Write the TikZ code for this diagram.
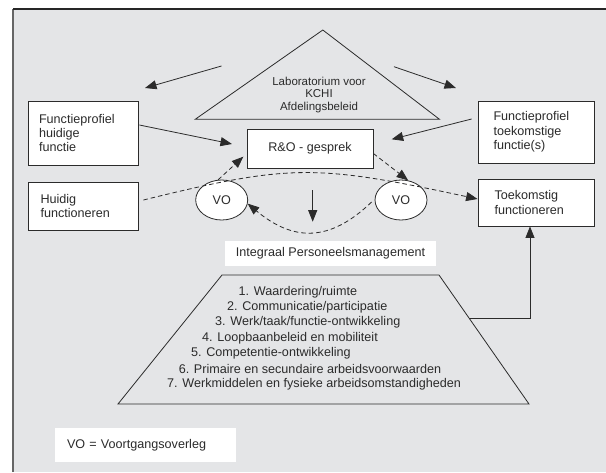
\documentclass[tikz,border=0pt]{standalone}
\usepackage{fontspec}
\setmainfont{Liberation Sans}
\definecolor{panelgray}{HTML}{E4E5E7}
\definecolor{inkgray}{HTML}{2B2B2B}
\usetikzlibrary{arrows.meta, shapes.geometric, calc}
\newcommand{\diafont}{\fontsize{12.6}{14.3}\selectfont}
\newcommand{\labfont}{\fontsize{11.5}{12.6}\selectfont}

\begin{document}
\begin{tikzpicture}[x=1pt, y=-1pt,
    every node/.style={font=\diafont, text=inkgray},
    profbox/.style={draw=inkgray, fill=white, line width=0.8pt, align=left, inner ysep=0pt},
    vo/.style={draw=inkgray, fill=white, ellipse, line width=0.8pt,
               minimum width=52pt, minimum height=40pt, inner sep=0pt},
    whitebox/.style={fill=white, inner sep=0pt},
    listitem/.style={anchor=west, inner sep=0pt},
    arr/.style={-{Triangle[length=11.5pt, width=9pt]}, draw=inkgray, line width=0.8pt},
    darr/.style={arr, dash pattern=on 4.5pt off 3pt}]
        \useasboundingbox (0,0) rectangle (606,472);
        % ---- panel ----
        \fill[panelgray] (13,9) rectangle (606,472);
        \draw[gray!80!black, line width=1.2pt] (13,472) -- (13,9);
        \draw[black!85, line width=1.2pt] (13,9) -- (606,9);

        % ---- laboratorium (triangle) ----
        \draw[inkgray, line width=0.8pt]
              (322.8,30) -- (439.5,119.3) -- (195.2,119.3) -- cycle;
        \node[font=\labfont, align=center] (lab)
              at (319,94.7) {Laboratorium voor\\KCHI\\Afdelingsbeleid};
        \coordinate (lab-l) at (221.5,66);
        \coordinate (lab-l-tip) at (145,88);
        \coordinate (lab-r) at (394,66.7);
        \coordinate (lab-r-tip) at (456,88);
        \draw[arr] (lab-l) -- (lab-l-tip);
        \draw[arr] (lab-r) -- (lab-r-tip);

        % ---- boxes ----
        \node[profbox, text width=88pt, inner xsep=11pt, minimum height=64pt]
              (fphuidig) at (83,133) {Functieprofiel\\huidige\\functie};
        \node[profbox, text width=85pt, inner xsep=15.5pt, minimum height=62pt]
              (fptoek) at (536,132) {Functieprofiel\\toekomstige\\functie(s)};
        \node[profbox, minimum width=126pt, minimum height=39pt, align=center]
              (ro) at (310,148.5) {R\&O - gesprek};
        \node[profbox, text width=85pt, inner xsep=12.5pt, minimum height=48pt]
              (huidig) at (83,206) {Huidig\\functioneren};
        \node[profbox, text width=83pt, inner xsep=16.5pt, minimum height=47pt]
              (toekomstig) at (536,202.5) {Toekomstig\\functioneren};
        \node[vo] (vol) at (221.7,200) {VO};
        \node[vo] (vor) at (401,200) {VO};

        % ---- connectors round R&O ----
        \coordinate (ro-in-l) at (232,144);
        \coordinate (ro-in-r) at (391.7,139.3);
        \coordinate (ro-in-b) at (243.3,156.7);
        \draw[arr] ($(fphuidig.east)+(1,-8)$) -- (ro-in-l);
        \draw[arr] ($(fptoek.west)+(-6,-13)$) -- (ro-in-r);
        \draw[darr] (vol.100) -- (ro-in-b);
        \draw[darr] ($(ro.east)+(0,5)$) -- (vor.70);
        % huidig -> toekomstig
        \draw[darr] ($(huidig.east)+(5,-6)$)
              .. controls (290,164) and (315,164) .. ($(toekomstig.west)+(0,-3.5)$);
        % back from right VO to left VO
        \draw[darr] ($(vor.west)+(-3,2)$)
              .. controls (330,242) and (294,242) .. (vol.352);
        \coordinate (down-top) at (312.7,190);
        \coordinate (down-tip) at (312.7,221.7);
        \draw[arr] (down-top) -- (down-tip);

        % ---- integraal personeelsmanagement ----
        \node[whitebox, minimum width=211pt, minimum height=25pt]
              (ipm) at (330.5,253.5) {Integraal Personeelsmanagement};
        \draw[inkgray, line width=0.8pt]
              (222,275) -- (439,275) -- (529,404) -- (118,404) -- cycle;
        \node[listitem] (item1) at (238.5,292)   {1. Waardering/ruimte};
        \node[listitem] (item2) at (227,307.4)   {2. Communicatie/participatie};
        \node[listitem] (item3) at (215,322.7)   {3. Werk/taak/functie-ontwikkeling};
        \node[listitem] (item4) at (202,338)     {4. Loopbaanbeleid en mobiliteit};
        \node[listitem] (item5) at (191,353.4)   {5. Competentie-ontwikkeling};
        \node[listitem] (item6) at (178.6,368.8) {6. Primaire en secundaire arbeidsvoorwaarden};
        \node[listitem] (item7) at (167,384.1)   {7. Werkmiddelen en fysieke arbeidsomstandigheden};
        % trapezium -> toekomstig functioneren
        \coordinate (trap-r) at (469,318);
        \draw[arr] (trap-r) -| ($(toekomstig.south)+(-6,0)$);

        % ---- legend ----
        \node[whitebox, text width=157pt, inner xsep=12pt, minimum height=34pt, align=left]
              (legenda) at (145.5,445) {VO = Voortgangsoverleg};
      \end{tikzpicture}
\end{document}
